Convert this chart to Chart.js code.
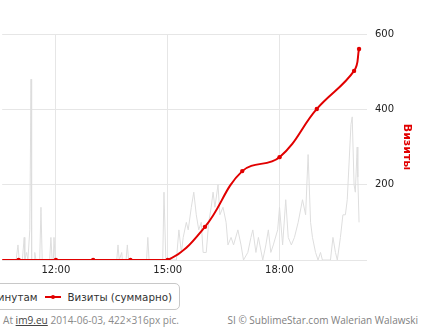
<!DOCTYPE html>
<html>
<head>
<meta charset="utf-8">
<script src="https://cdn.jsdelivr.net/npm/chart.js@4"></script>
<style>
  html, body { margin:0; padding:0; background:#fff; }
  body { width:422px; height:328px; overflow:hidden; position:relative; font-family:"DejaVu Sans", sans-serif; }
  #wrap { position:absolute; left:0; top:0; width:422px; height:280px; }
  #legend { position:absolute; right:242px; top:283px; height:25px; border:1px solid #c8c8c8; border-radius:5px;
            display:flex; align-items:center; padding:0 7px 0 8px; white-space:nowrap; font-size:10.3px; color:#333; }
  .item { display:flex; align-items:center; }
  .item + .item { margin-left:8px; }
  .sym { position:relative; width:16px; height:10px; margin-right:6px; }
  .sym .ln { position:absolute; left:0; right:0; top:4px; height:2px; }
  .sym .dot { position:absolute; border-radius:50%; }
  #credL { position:absolute; left:3px; top:313px; font-family:"Open Sans", sans-serif; font-size:10.1px; color:#8a8a8a; white-space:nowrap; }
  #credL a { color:#444; text-decoration:underline; }
  #credR { position:absolute; right:4px; top:313px; font-family:"Open Sans", sans-serif; font-size:10px; color:#808080; white-space:nowrap; }
</style>
</head>
<body>
<div id="wrap"><canvas id="c" width="422" height="280"></canvas></div>
<div id="legend">
  <div class="item"><div class="sym"><div class="ln" style="background:#ccc;height:1px;top:5px"></div></div><span>Визиты по минутам</span></div>
  <div class="item"><div class="sym"><div class="ln" style="background:#e10000"></div><div class="dot" style="background:#e10000;left:6px;top:3px;width:4px;height:4px"></div></div><span>Визиты (суммарно)</span></div>
</div>
<div id="credL">At <a>im9.eu</a> 2014-06-03, 422×316px pic.</div>
<div id="credR">SI © SublimeStar.com Walerian Walawski</div>
<script>
// ---- data ----
const seriesNames = ["Визиты по минутам", "Визиты (суммарно)"];
const axisTitle = "Визиты";
const tickTimes = ["12:00", "15:00", "18:00"];
const yTicks = [0, 200, 400, 600];

// cumulative visits (hourly points)
const totalTimes  = ["10:00","11:00","12:00","13:00","14:00","15:00","16:00","17:00","18:00","19:00","20:00","20:08"];
const totalValues = [0, 0, 0, 0, 0, 0, 88, 236, 273, 401, 502, 560];

// visits per minute
const minuteTimes = ["10:34","10:56","10:59","11:01","11:06","11:09","11:10","11:13","11:15","11:18","11:20","11:21",
  "11:25","11:26","11:28","11:34","11:36","11:38","11:50","11:52","11:54","11:56","11:57","11:59",
  "13:38","13:40","13:42","13:46","13:47","13:53","13:55","13:57","14:26","14:28","14:30","14:52","14:54","14:57",
  "15:14","15:18","15:22","15:25","15:30","15:33","15:38","15:42","15:46","15:50","15:54","15:57","16:02","16:06",
  "16:10","16:13","16:16","16:21","16:24","16:29","16:34","16:37","16:42","16:46","16:53","16:58","17:02","17:09",
  "17:14","17:17","17:22","17:26","17:33","17:38","17:42","17:46","17:50","17:57","18:00","18:05","18:10","18:14",
  "18:19","18:24","18:30","18:37","18:42","18:46","18:50","18:53","18:58","19:02","19:06","19:09","19:22","19:26",
  "19:30","19:33","19:38","19:42","19:46","19:49","19:52","19:55","19:57","20:00","20:02","20:05","20:06","20:08"];
const minuteValues = [0,0,2,0,0,3,0,1,0,4,24,0,
  0,1,0,0,7,0,0,3,0,0,3,0,
  0,2,0,1,0,0,2,0,0,3,0,0,9,0,
  0,4,1,3,5,4,7,9,6,4,5,1,1,5,
  7,9,7,10,6,7,5,2,3,2,4,2,0,1,
  3,4,1,3,0,2,4,1,2,4,7,2,8,3,
  2,3,5,8,6,14,5,3,1,0,1,0,0,3,
  1,0,3,6,6,8,13,18,19,10,9,15,11,5];

// ---- helpers ----
const toMin = s => { const [h, m] = s.split(":").map(Number); return h * 60 + m; };
const fmt = v => { const h = Math.floor(v / 60), m = Math.round(v % 60); return h + ":" + String(m).padStart(2, "0"); };

const RED = "#e10000";
const GRID = "#e6e6e6";

new Chart(document.getElementById("c"), {
  type: "line",
  data: {
    datasets: [
      {
        label: seriesNames[1],
        data: totalTimes.map((t, i) => ({ x: toMin(t), y: totalValues[i] })),
        yAxisID: "y",
        borderColor: RED, backgroundColor: RED,
        borderWidth: 2, tension: 0.4,
        pointRadius: 2.2, pointHoverRadius: 2.2, pointBorderWidth: 0,
        order: 0
      },
      {
        label: seriesNames[0],
        data: minuteTimes.map((t, i) => ({ x: toMin(t), y: minuteValues[i] })),
        yAxisID: "y2",
        borderColor: "#dedede", backgroundColor: "#dedede",
        borderWidth: 1, tension: 0, pointRadius: 0,
        order: 1
      }
    ]
  },
  options: {
    responsive: false, animation: false,
    layout: { padding: { top: 34, left: 0, right: 0, bottom: 0 } },
    plugins: { legend: { display: false }, tooltip: { enabled: false } },
    scales: {
      x: {
        type: "linear", min: 633.6, max: 1220.8,
        afterBuildTicks: s => { s.ticks = tickTimes.map(t => ({ value: toMin(t) })); },
        afterFit: s => { s.height = 20; },
        ticks: { callback: v => fmt(v), color: "#222", font: { family: "DejaVu Sans", size: 10 }, padding: 4, maxRotation: 0, autoSkip: false },
        grid: { color: GRID, drawTicks: false },
        border: { display: false }
      },
      y: {
        position: "right", min: 0, max: 600,
        afterBuildTicks: s => { s.ticks = yTicks.map(v => ({ value: v })); },
        afterFit: s => { s.width = 55; },
        ticks: { callback: v => v === 0 ? "" : String(v), color: "#222", font: { family: "DejaVu Sans", size: 10 }, padding: 8 },
        grid: { color: GRID, drawTicks: false },
        border: { display: false },
        title: { display: true, text: axisTitle, color: RED, font: { family: "DejaVu Sans", size: 11, weight: "bold" }, padding: { top: 9, bottom: 0 } }
      },
      y2: { display: false, min: 0, max: 30 }
    }
  }
});
</script>
</body>
</html>
